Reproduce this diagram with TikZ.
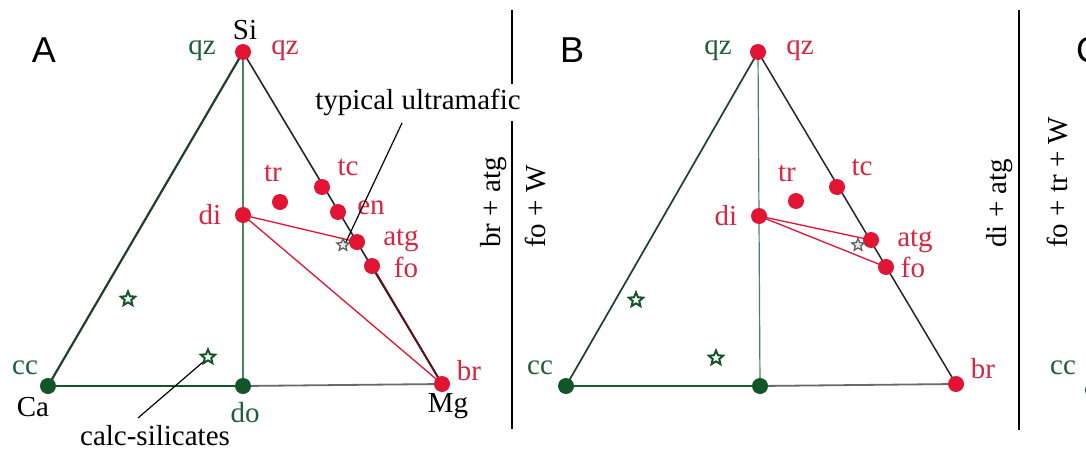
\documentclass[tikz,border=0pt]{standalone}
\usepackage{fontspec}
\setmainfont{Liberation Serif}
\newfontfamily\panelfont{Liberation Sans}
\usetikzlibrary{shapes.geometric}
\definecolor{mred}{RGB}{226,20,52}
\definecolor{tred}{RGB}{214,38,66}
\definecolor{dgreen}{RGB}{18,85,40}
\definecolor{tgreen}{RGB}{30,95,55}
\definecolor{lgreen}{RGB}{70,135,90}
\definecolor{egreen}{RGB}{30,65,40}
\definecolor{lgray}{RGB}{105,105,105}
\definecolor{dred}{RGB}{90,20,28}
\tikzset{
  rdot/.style={circle, fill=mred, inner sep=0pt, minimum size=16pt},
  gdot/.style={circle, fill=dgreen, inner sep=0pt, minimum size=16pt},
  lab/.style={inner sep=0pt, font=\fontsize{29}{32}\selectfont},
  rlab/.style={lab, text=tred},
  glab/.style={lab, text=tgreen},
  klab/.style={lab, text=black},
  panel/.style={inner sep=0pt, font=\panelfont\fontsize{36}{40}\selectfont},
  vlab/.style={lab, text=black, rotate=90, anchor=base west},
  gstar/.style={star, star points=5, star point ratio=2.2, draw=dgreen, fill=white, line width=2pt, minimum size=15pt, inner sep=0pt},
  kstar/.style={star, star points=5, star point ratio=2.2, draw=black!65, fill=black!10, line width=1.2pt, minimum size=13pt, inner sep=0pt},
  sep/.style={line width=2.4pt, black},
  lead/.style={line width=1.2pt, black},
  redline/.style={line width=1.3pt, mred},
}
\begin{document}
\begin{tikzpicture}[x=1pt, y=-1pt]
\useasboundingbox (0,0) rectangle (1086,455);
\clip (0,0) rectangle (1086,455);
\fill[white] (0,0) rectangle (1086,455);

% ---------------- Panel A ----------------
\coordinate (SiA) at (243,52);
\coordinate (CaA) at (48,386);
\coordinate (doA) at (243,386);
\coordinate (MgA) at (442,384);
\coordinate (diA) at (243,215);
\coordinate (trA) at (280,202);
\coordinate (tcA) at (322,187);
\coordinate (enA) at (338,212);
\coordinate (atgA) at (357,242);
\coordinate (foA) at (372,266);

\draw[egreen, line width=2.2pt] (CaA) -- (SiA);
\draw[lgreen, line width=1.4pt] (SiA) -- (doA);
\draw[dgreen, line width=2.6pt] (CaA) -- (doA);
\draw[lgray, line width=1.8pt] (doA) -- (MgA);
\draw[black!85, line width=1.6pt] (SiA) -- (MgA);
\draw[redline] (diA) -- (atgA);
\draw[redline] (diA) -- (MgA);
\draw[dred, line width=1.9pt] (foA) -- (MgA);

\node[rdot] (SiAd) at (SiA) {};
\node[gdot] (CaAd) at (CaA) {};
\node[gdot] (doAd) at (doA) {};
\node[rdot] (MgAd) at (MgA) {};
\node[rdot] (diAd) at (diA) {};
\node[rdot] (trAd) at (trA) {};
\node[rdot] (tcAd) at (tcA) {};
\node[rdot] (enAd) at (enA) {};
\node[rdot] (atgAd) at (atgA) {};
\node[rdot] (foAd) at (foA) {};
\node[kstar] (uA) at (343,245) {};
\node[gstar] (gs1A) at (128,299) {};
\node[gstar] (gs2A) at (208,357) {};

\node[panel] (labA) at (44,50) {A};
\node[klab] (SiAl) at (245,30) {Si};
\node[glab] (qzAg) at (202,51) {qz};
\node[rlab] (qzAr) at (285,51) {qz};
\node[rlab] (trAl) at (273,173) {tr};
\node[rlab] (tcAl) at (348,167) {tc};
\node[rlab] (enAl) at (371,208) {en};
\node[rlab] (atgAl) at (401,240) {atg};
\node[rlab] (foAl) at (406,267) {fo};
\node[rlab] (diAl) at (210,215) {di};
\node[rlab] (brAl) at (469,371) {br};
\node[klab] (MgAl) at (448,406) {Mg};
\node[glab] (ccAl) at (25,368) {cc};
\node[klab] (CaAl) at (33,407) {Ca};
\node[glab] (doAl) at (245,413) {do};
\node[klab] (calc) at (155,436) {calc-silicates};
\node[klab] (typ) at (418,102) {typical ultramafic};
\coordinate (typEnd) at (402,123);
\coordinate (calcEnd) at (138,418);
\draw[lead] (typEnd) -- (uA.north east);
\draw[lead] (calcEnd) -- (gs2A.south west);

% separator A|B
\coordinate (s1a) at (512,10);
\coordinate (s1b) at (512,84);
\coordinate (s1c) at (512,121);
\coordinate (s1d) at (512,429);
\draw[sep] (s1a) -- (s1b);
\draw[sep] (s1c) -- (s1d);
\node[vlab] (brAtg) at (500,248) {br + atg};
\node[vlab] (foW) at (545,248) {fo + W};

% ---------------- Panel B ----------------
\coordinate (qzB) at (758,52);
\coordinate (ccB) at (566,386);
\coordinate (doB) at (760,386);
\coordinate (brB) at (956,384);
\coordinate (diB) at (759,216);
\coordinate (trB) at (796,201);
\coordinate (tcB) at (837,187);
\coordinate (atgB) at (871,240);
\coordinate (foB) at (886,267);

\draw[egreen, line width=1.7pt] (ccB) -- (qzB);
\draw[lgreen, line width=1.2pt] (qzB) -- (doB);
\draw[dgreen!85!lgreen, line width=1.6pt] (ccB) -- (doB);
\draw[lgray, line width=1.8pt] (doB) -- (brB);
\draw[black!85, line width=1.5pt] (qzB) -- (brB);
\draw[redline] (diB) -- (atgB);
\draw[redline] (diB) -- (foB);

\node[rdot] (qzBd) at (qzB) {};
\node[gdot] (ccBd) at (ccB) {};
\node[gdot] (doBd) at (doB) {};
\node[rdot] (brBd) at (brB) {};
\node[rdot] (diBd) at (diB) {};
\node[rdot] (trBd) at (trB) {};
\node[rdot] (tcBd) at (tcB) {};
\node[rdot] (atgBd) at (atgB) {};
\node[rdot] (foBd) at (foB) {};
\node[kstar] (uB) at (858,245) {};
\node[gstar] (gs1B) at (636,300) {};
\node[gstar] (gs2B) at (716,358) {};

\node[panel] (labB) at (572,50) {B};
\node[glab] (qzBg) at (718,51) {qz};
\node[rlab] (qzBr) at (800,51) {qz};
\node[rlab] (trBl) at (787,173) {tr};
\node[rlab] (tcBl) at (862,167) {tc};
\node[rlab] (diBl) at (726,216) {di};
\node[rlab] (atgBl) at (915,241) {atg};
\node[rlab] (foBl) at (913,267) {fo};
\node[rlab] (brBl) at (983,369) {br};
\node[glab] (ccBl) at (540,368) {cc};

% separator B|C
\coordinate (s2a) at (1019,10);
\coordinate (s2b) at (1019,430);
\draw[sep] (s2a) -- (s2b);
\node[vlab] (diAtg) at (1006,248) {di + atg};
\node[vlab] (foTrW) at (1067,248) {fo + tr + W};

% ---------------- Panel C (cut off at the edge, as in the reference) ----------------
\node[panel] (labC) at (1089,50) {C};
\node[glab] (ccCl) at (1063,368) {cc};
\node[gdot] (ccCd) at (1093,390) {};
\end{tikzpicture}
\end{document}
